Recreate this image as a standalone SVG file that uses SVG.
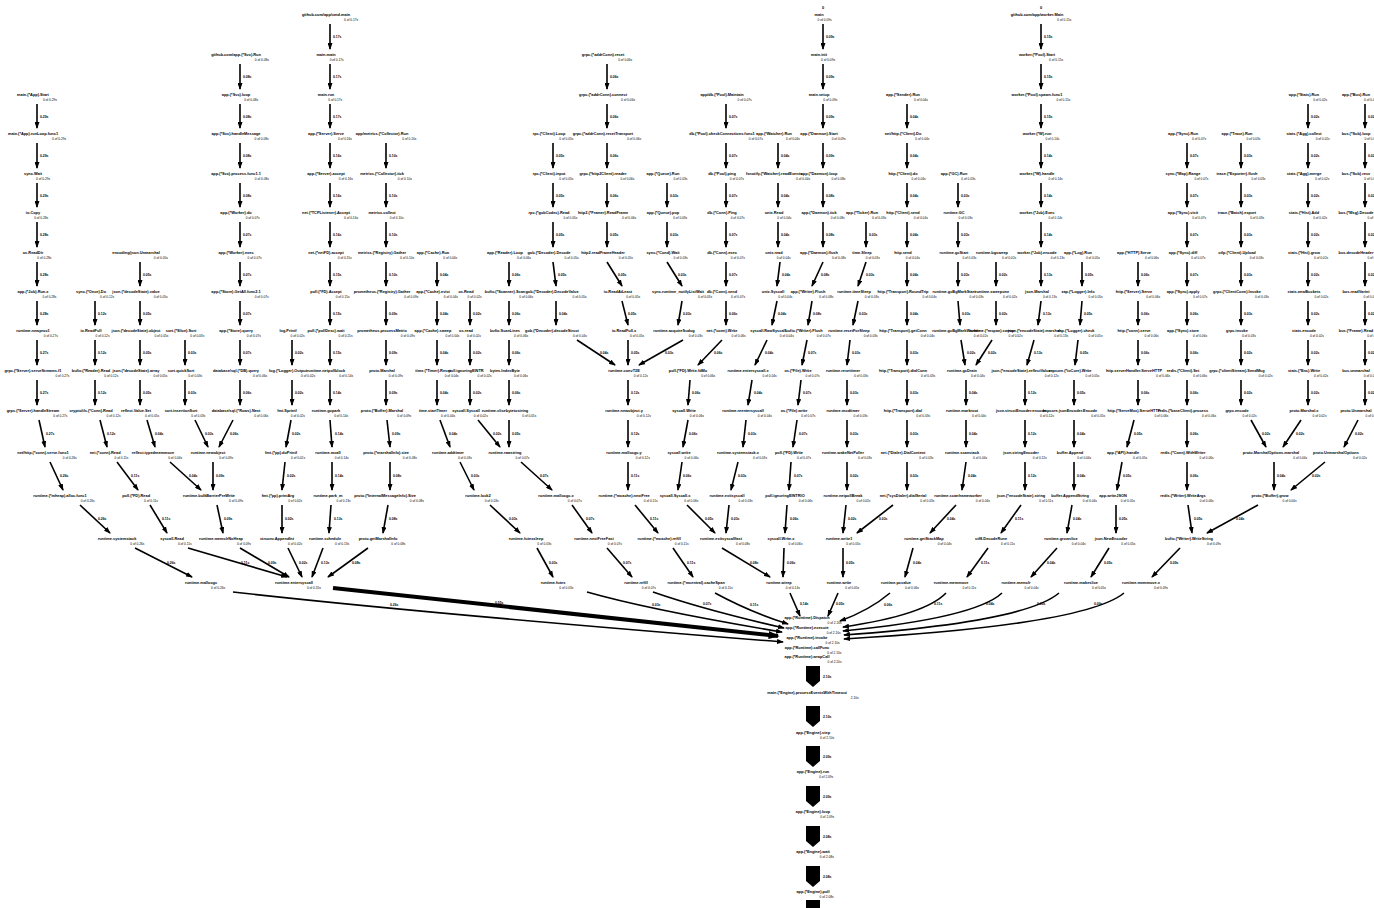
<svg xmlns="http://www.w3.org/2000/svg" width="1374" height="908" viewBox="0 0 1374 908">
<style>
text{font-family:"Liberation Sans",Arial,sans-serif;fill:#000}
.n{font-size:3.9px;font-weight:bold;text-anchor:middle}
.n tspan{font-size:3.2px;font-weight:normal}
.l{font-size:3.4px;font-weight:bold}
.e{fill:none;stroke:#000;stroke-width:1.6;marker-end:url(#a)}
.t{fill:none;stroke:#000;stroke-width:4;marker-end:url(#b)}
.h{fill:#000}
</style>
<defs>
<marker id="a" viewBox="0 0 7 5" refX="6" refY="2.5" markerUnits="userSpaceOnUse" markerWidth="7" markerHeight="5" orient="auto"><path d="M0,0L7,2.5L0,5z"/></marker>
<marker id="b" viewBox="0 0 7 5" refX="6" refY="2.5" markerUnits="userSpaceOnUse" markerWidth="11" markerHeight="8" orient="auto"><path d="M0,0L7,2.5L0,5z"/></marker>
</defs>
<rect width="1374" height="908" fill="#fff"/>
<g id="connectors">
<path class="e" d="M37 104V128"/><text class="l" x="40" y="118">0.29s</text>
<path class="e" d="M37 143V168"/><text class="l" x="40" y="157">0.29s</text>
<path class="e" d="M37 183V207"/><text class="l" x="40" y="197">0.29s</text>
<path class="e" d="M37 222V247"/><text class="l" x="40" y="236">0.28s</text>
<path class="e" d="M37 262V286"/><text class="l" x="40" y="276">0.28s</text>
<path class="e" d="M37 301V325"/><text class="l" x="40" y="315">0.28s</text>
<path class="e" d="M37 340V365"/><text class="l" x="40" y="354">0.27s</text>
<path class="e" d="M37 380V405"/><text class="l" x="40" y="394">0.27s</text>
<path class="e" d="M39 420L45 447"/><text class="l" x="46" y="435">0.27s</text>
<path class="e" d="M50 462L63 490"/><text class="l" x="60" y="477">0.26s</text>
<path class="e" d="M80 505L110 533"/><text class="l" x="98" y="520">0.26s</text>
<path class="e" d="M135 548L192 577"/><text class="l" x="167" y="564">0.26s</text>
<path class="e" d="M95 301V325"/><text class="l" x="98" y="315">0.12s</text>
<path class="e" d="M95 340V365"/><text class="l" x="98" y="354">0.12s</text>
<path class="e" d="M95 380V405"/><text class="l" x="98" y="394">0.12s</text>
<path class="e" d="M100 420L107 447"/><text class="l" x="107" y="435">0.12s</text>
<path class="e" d="M117 462L138 490"/><text class="l" x="131" y="477">0.11s</text>
<path class="e" d="M150 505L167 533"/><text class="l" x="162" y="520">0.11s</text>
<path class="e" d="M188 548L287 577"/><text class="l" x="241" y="564">0.11s</text>
<path class="e" d="M140 262V286"/><text class="l" x="143" y="276">0.05s</text>
<path class="e" d="M140 301V325"/><text class="l" x="143" y="315">0.05s</text>
<path class="e" d="M140 340V365"/><text class="l" x="143" y="354">0.05s</text>
<path class="e" d="M140 380V405"/><text class="l" x="143" y="394">0.05s</text>
<path class="e" d="M147 420L155 447"/><text class="l" x="155" y="435">0.04s</text>
<path class="e" d="M170 462L201 490"/><text class="l" x="189" y="477">0.04s</text>
<path class="e" d="M185 340V365"/><text class="l" x="188" y="354">0.03s</text>
<path class="e" d="M185 380V405"/><text class="l" x="188" y="394">0.03s</text>
<path class="e" d="M195 420L208 447"/><text class="l" x="205" y="435">0.03s</text>
<path class="e" d="M240 64V89"/><text class="l" x="243" y="78">0.08s</text>
<path class="e" d="M240 104V128"/><text class="l" x="243" y="118">0.08s</text>
<path class="e" d="M240 143V168"/><text class="l" x="243" y="157">0.08s</text>
<path class="e" d="M240 183V207"/><text class="l" x="243" y="197">0.08s</text>
<path class="e" d="M240 222V247"/><text class="l" x="243" y="236">0.07s</text>
<path class="e" d="M240 262V286"/><text class="l" x="243" y="276">0.07s</text>
<path class="e" d="M240 301V325"/><text class="l" x="243" y="315">0.07s</text>
<path class="e" d="M240 340V365"/><text class="l" x="243" y="354">0.07s</text>
<path class="e" d="M240 380V405"/><text class="l" x="243" y="394">0.06s</text>
<path class="e" d="M233 420L219 447"/><text class="l" x="230" y="435">0.06s</text>
<path class="e" d="M213 462V490"/><text class="l" x="216" y="477">0.09s</text>
<path class="e" d="M217 505L223 533"/><text class="l" x="224" y="520">0.09s</text>
<path class="e" d="M240 548L289 577"/><text class="l" x="268" y="564">0.09s</text>
<path class="e" d="M292 340V365"/><text class="l" x="295" y="354">0.02s</text>
<path class="e" d="M292 380V405"/><text class="l" x="295" y="394">0.02s</text>
<path class="e" d="M291 420L286 447"/><text class="l" x="292" y="435">0.02s</text>
<path class="e" d="M285 462L282 490"/><text class="l" x="287" y="477">0.02s</text>
<path class="e" d="M282 505V533"/><text class="l" x="285" y="520">0.02s</text>
<path class="e" d="M288 548L302 577"/><text class="l" x="299" y="564">0.02s</text>
<path class="e" d="M330 24V49"/><text class="l" x="333" y="38">0.17s</text>
<path class="e" d="M330 64V89"/><text class="l" x="333" y="78">0.17s</text>
<path class="e" d="M330 104V128"/><text class="l" x="333" y="118">0.17s</text>
<path class="e" d="M330 143V168"/><text class="l" x="333" y="157">0.16s</text>
<path class="e" d="M330 183V207"/><text class="l" x="333" y="197">0.16s</text>
<path class="e" d="M330 222V247"/><text class="l" x="333" y="236">0.16s</text>
<path class="e" d="M330 262V286"/><text class="l" x="333" y="276">0.15s</text>
<path class="e" d="M330 301V325"/><text class="l" x="333" y="315">0.15s</text>
<path class="e" d="M330 340V365"/><text class="l" x="333" y="354">0.15s</text>
<path class="e" d="M330 380V405"/><text class="l" x="333" y="394">0.14s</text>
<path class="e" d="M330 420L332 447"/><text class="l" x="335" y="435">0.14s</text>
<path class="e" d="M332 462V490"/><text class="l" x="335" y="477">0.14s</text>
<path class="e" d="M331 505L329 533"/><text class="l" x="334" y="520">0.13s</text>
<path class="e" d="M323 548L312 577"/><text class="l" x="321" y="564">0.13s</text>
<path class="e" d="M386 143V168"/><text class="l" x="389" y="157">0.10s</text>
<path class="e" d="M386 183V207"/><text class="l" x="389" y="197">0.10s</text>
<path class="e" d="M386 222V247"/><text class="l" x="389" y="236">0.10s</text>
<path class="e" d="M386 262V286"/><text class="l" x="389" y="276">0.10s</text>
<path class="e" d="M386 301V325"/><text class="l" x="389" y="315">0.09s</text>
<path class="e" d="M386 340V365"/><text class="l" x="389" y="354">0.09s</text>
<path class="e" d="M386 380V405"/><text class="l" x="389" y="394">0.09s</text>
<path class="e" d="M387 420L390 447"/><text class="l" x="392" y="435">0.09s</text>
<path class="e" d="M390 462V490"/><text class="l" x="393" y="477">0.08s</text>
<path class="e" d="M388 505L383 533"/><text class="l" x="389" y="520">0.08s</text>
<path class="e" d="M368 548L328 577"/><text class="l" x="352" y="564">0.08s</text>
<path class="e" d="M437 262V286"/><text class="l" x="440" y="276">0.04s</text>
<path class="e" d="M437 301V325"/><text class="l" x="440" y="315">0.04s</text>
<path class="e" d="M437 340V365"/><text class="l" x="440" y="354">0.04s</text>
<path class="e" d="M437 380V405"/><text class="l" x="440" y="394">0.04s</text>
<path class="e" d="M440 420L450 447"/><text class="l" x="449" y="435">0.04s</text>
<path class="e" d="M460 462L474 490"/><text class="l" x="471" y="477">0.03s</text>
<path class="e" d="M490 505L520 533"/><text class="l" x="509" y="520">0.03s</text>
<path class="e" d="M537 548L553 577"/><text class="l" x="549" y="564">0.03s</text>
<path class="e" d="M470 301V325"/><text class="l" x="473" y="315">0.02s</text>
<path class="e" d="M470 340V365"/><text class="l" x="473" y="354">0.02s</text>
<path class="e" d="M470 380V405"/><text class="l" x="473" y="394">0.02s</text>
<path class="e" d="M478 420L500 447"/><text class="l" x="493" y="435">0.02s</text>
<path class="e" d="M509 262V286"/><text class="l" x="512" y="276">0.06s</text>
<path class="e" d="M509 301V325"/><text class="l" x="512" y="315">0.06s</text>
<path class="e" d="M509 340V365"/><text class="l" x="512" y="354">0.06s</text>
<path class="e" d="M509 380V405"/><text class="l" x="512" y="394">0.06s</text>
<path class="e" d="M509 420V447"/><text class="l" x="512" y="435">0.05s</text>
<path class="e" d="M521 462L552 490"/><text class="l" x="540" y="477">0.07s</text>
<path class="e" d="M572 505L592 533"/><text class="l" x="586" y="520">0.07s</text>
<path class="e" d="M607 548L632 577"/><text class="l" x="623" y="564">0.07s</text>
<path class="e" d="M553 143V168"/><text class="l" x="556" y="157">0.05s</text>
<path class="e" d="M553 183V207"/><text class="l" x="556" y="197">0.05s</text>
<path class="e" d="M553 222V247"/><text class="l" x="556" y="236">0.05s</text>
<path class="e" d="M553 262L556 286"/><text class="l" x="558" y="276">0.05s</text>
<path class="e" d="M556 301V325"/><text class="l" x="559" y="315">0.04s</text>
<path class="e" d="M577 340L615 365"/><text class="l" x="600" y="354">0.04s</text>
<path class="e" d="M607 64V89"/><text class="l" x="610" y="78">0.06s</text>
<path class="e" d="M607 104V128"/><text class="l" x="610" y="118">0.06s</text>
<path class="e" d="M607 143V168"/><text class="l" x="610" y="157">0.06s</text>
<path class="e" d="M607 183V207"/><text class="l" x="610" y="197">0.06s</text>
<path class="e" d="M607 222V247"/><text class="l" x="610" y="236">0.05s</text>
<path class="e" d="M607 262L622 286"/><text class="l" x="618" y="276">0.05s</text>
<path class="e" d="M622 301L628 325"/><text class="l" x="628" y="315">0.05s</text>
<path class="e" d="M628 340V365"/><text class="l" x="631" y="354">0.05s</text>
<path class="e" d="M628 380V405"/><text class="l" x="631" y="394">0.12s</text>
<path class="e" d="M628 420V447"/><text class="l" x="631" y="435">0.12s</text>
<path class="e" d="M628 462V490"/><text class="l" x="631" y="477">0.11s</text>
<path class="e" d="M635 505L658 533"/><text class="l" x="650" y="520">0.11s</text>
<path class="e" d="M673 548L693 577"/><text class="l" x="687" y="564">0.11s</text>
<path class="e" d="M667 183V207"/><text class="l" x="670" y="197">0.03s</text>
<path class="e" d="M667 222V247"/><text class="l" x="670" y="236">0.03s</text>
<path class="e" d="M667 262L682 286"/><text class="l" x="678" y="276">0.03s</text>
<path class="e" d="M682 301L678 325"/><text class="l" x="683" y="315">0.03s</text>
<path class="e" d="M683 340L639 365"/><text class="l" x="665" y="354">0.03s</text>
<path class="e" d="M726 104V128"/><text class="l" x="729" y="118">0.07s</text>
<path class="e" d="M726 143V168"/><text class="l" x="729" y="157">0.07s</text>
<path class="e" d="M726 183V207"/><text class="l" x="729" y="197">0.07s</text>
<path class="e" d="M726 222V247"/><text class="l" x="729" y="236">0.07s</text>
<path class="e" d="M726 262V286"/><text class="l" x="729" y="276">0.07s</text>
<path class="e" d="M726 301V325"/><text class="l" x="729" y="315">0.06s</text>
<path class="e" d="M722 340L698 365"/><text class="l" x="714" y="354">0.06s</text>
<path class="e" d="M690 380L688 405"/><text class="l" x="692" y="394">0.06s</text>
<path class="e" d="M688 420L683 447"/><text class="l" x="689" y="435">0.06s</text>
<path class="e" d="M682 462L678 490"/><text class="l" x="683" y="477">0.06s</text>
<path class="e" d="M687 505L715 533"/><text class="l" x="705" y="520">0.05s</text>
<path class="e" d="M778 143V168"/><text class="l" x="781" y="157">0.04s</text>
<path class="e" d="M778 183V207"/><text class="l" x="781" y="197">0.04s</text>
<path class="e" d="M778 222V247"/><text class="l" x="781" y="236">0.04s</text>
<path class="e" d="M780 262L777 286"/><text class="l" x="782" y="276">0.04s</text>
<path class="e" d="M777 301L772 325"/><text class="l" x="778" y="315">0.04s</text>
<path class="e" d="M767 340L755 365"/><text class="l" x="765" y="354">0.04s</text>
<path class="e" d="M752 380L748 405"/><text class="l" x="754" y="394">0.04s</text>
<path class="e" d="M746 420L743 447"/><text class="l" x="748" y="435">0.03s</text>
<path class="e" d="M738 462L731 490"/><text class="l" x="738" y="477">0.03s</text>
<path class="e" d="M729 505L726 533"/><text class="l" x="731" y="520">0.03s</text>
<path class="e" d="M722 548L770 577"/><text class="l" x="750" y="564">0.08s</text>
<path class="e" d="M823 24V49"/><text class="l" x="826" y="38">0.09s</text>
<path class="e" d="M823 64V89"/><text class="l" x="826" y="78">0.09s</text>
<path class="e" d="M823 104V128"/><text class="l" x="826" y="118">0.09s</text>
<path class="e" d="M823 143V168"/><text class="l" x="826" y="157">0.09s</text>
<path class="e" d="M823 183V207"/><text class="l" x="826" y="197">0.08s</text>
<path class="e" d="M823 222V247"/><text class="l" x="826" y="236">0.08s</text>
<path class="e" d="M823 262L812 286"/><text class="l" x="821" y="276">0.08s</text>
<path class="e" d="M812 301L808 325"/><text class="l" x="813" y="315">0.08s</text>
<path class="e" d="M807 340L802 365"/><text class="l" x="808" y="354">0.07s</text>
<path class="e" d="M801 380L798 405"/><text class="l" x="803" y="394">0.07s</text>
<path class="e" d="M797 420L793 447"/><text class="l" x="799" y="435">0.07s</text>
<path class="e" d="M791 462L789 490"/><text class="l" x="794" y="477">0.07s</text>
<path class="e" d="M787 505L785 533"/><text class="l" x="790" y="520">0.06s</text>
<path class="e" d="M784 548L783 577"/><text class="l" x="787" y="564">0.06s</text>
<path class="e" d="M866 222V247"/><text class="l" x="869" y="236">0.03s</text>
<path class="e" d="M866 262L858 286"/><text class="l" x="866" y="276">0.03s</text>
<path class="e" d="M858 301L853 325"/><text class="l" x="859" y="315">0.03s</text>
<path class="e" d="M850 340L847 365"/><text class="l" x="852" y="354">0.03s</text>
<path class="e" d="M847 380V405"/><text class="l" x="850" y="394">0.03s</text>
<path class="e" d="M847 420V447"/><text class="l" x="850" y="435">0.03s</text>
<path class="e" d="M847 462V490"/><text class="l" x="850" y="477">0.02s</text>
<path class="e" d="M846 505L843 533"/><text class="l" x="848" y="520">0.02s</text>
<path class="e" d="M843 548V577"/><text class="l" x="846" y="564">0.05s</text>
<path class="e" d="M907 104V128"/><text class="l" x="910" y="118">0.04s</text>
<path class="e" d="M907 143V168"/><text class="l" x="910" y="157">0.04s</text>
<path class="e" d="M907 183V207"/><text class="l" x="910" y="197">0.04s</text>
<path class="e" d="M907 222V247"/><text class="l" x="910" y="236">0.04s</text>
<path class="e" d="M907 262V286"/><text class="l" x="910" y="276">0.04s</text>
<path class="e" d="M907 301V325"/><text class="l" x="910" y="315">0.04s</text>
<path class="e" d="M907 340V365"/><text class="l" x="910" y="354">0.03s</text>
<path class="e" d="M907 380V405"/><text class="l" x="910" y="394">0.03s</text>
<path class="e" d="M907 420V447"/><text class="l" x="910" y="435">0.03s</text>
<path class="e" d="M907 462V490"/><text class="l" x="910" y="477">0.03s</text>
<path class="e" d="M893 505L857 533"/><text class="l" x="879" y="520">0.03s</text>
<path class="e" d="M958 183V207"/><text class="l" x="961" y="197">0.03s</text>
<path class="e" d="M958 222V247"/><text class="l" x="961" y="236">0.03s</text>
<path class="e" d="M958 262V286"/><text class="l" x="961" y="276">0.03s</text>
<path class="e" d="M958 301L960 325"/><text class="l" x="962" y="315">0.03s</text>
<path class="e" d="M961 340L965 365"/><text class="l" x="967" y="354">0.02s</text>
<path class="e" d="M966 380V405"/><text class="l" x="969" y="394">0.04s</text>
<path class="e" d="M966 420V447"/><text class="l" x="969" y="435">0.04s</text>
<path class="e" d="M966 462L962 490"/><text class="l" x="968" y="477">0.04s</text>
<path class="e" d="M956 505L930 533"/><text class="l" x="947" y="520">0.04s</text>
<path class="e" d="M913 548L905 577"/><text class="l" x="913" y="564">0.04s</text>
<path class="e" d="M996 262V286"/><text class="l" x="999" y="276">0.02s</text>
<path class="e" d="M996 301V325"/><text class="l" x="999" y="315">0.02s</text>
<path class="e" d="M992 340L976 365"/><text class="l" x="988" y="354">0.02s</text>
<path class="e" d="M1041 24V49"/><text class="l" x="1044" y="38">0.15s</text>
<path class="e" d="M1041 64V89"/><text class="l" x="1044" y="78">0.15s</text>
<path class="e" d="M1041 104V128"/><text class="l" x="1044" y="118">0.15s</text>
<path class="e" d="M1041 143V168"/><text class="l" x="1044" y="157">0.14s</text>
<path class="e" d="M1041 183V207"/><text class="l" x="1044" y="197">0.14s</text>
<path class="e" d="M1041 222V247"/><text class="l" x="1044" y="236">0.14s</text>
<path class="e" d="M1041 262V286"/><text class="l" x="1044" y="276">0.13s</text>
<path class="e" d="M1041 301L1038 325"/><text class="l" x="1043" y="315">0.13s</text>
<path class="e" d="M1034 340L1027 365"/><text class="l" x="1034" y="354">0.13s</text>
<path class="e" d="M1025 380V405"/><text class="l" x="1028" y="394">0.12s</text>
<path class="e" d="M1025 420V447"/><text class="l" x="1028" y="435">0.12s</text>
<path class="e" d="M1025 462V490"/><text class="l" x="1028" y="477">0.12s</text>
<path class="e" d="M1021 505L1001 533"/><text class="l" x="1015" y="520">0.11s</text>
<path class="e" d="M988 548L967 577"/><text class="l" x="981" y="564">0.11s</text>
<path class="e" d="M1082 262V286"/><text class="l" x="1085" y="276">0.05s</text>
<path class="e" d="M1082 301L1080 325"/><text class="l" x="1084" y="315">0.05s</text>
<path class="e" d="M1078 340L1075 365"/><text class="l" x="1080" y="354">0.05s</text>
<path class="e" d="M1074 380V405"/><text class="l" x="1077" y="394">0.05s</text>
<path class="e" d="M1074 420V447"/><text class="l" x="1077" y="435">0.04s</text>
<path class="e" d="M1074 462V490"/><text class="l" x="1077" y="477">0.04s</text>
<path class="e" d="M1072 505L1067 533"/><text class="l" x="1073" y="520">0.04s</text>
<path class="e" d="M1057 548L1031 577"/><text class="l" x="1047" y="564">0.04s</text>
<path class="e" d="M1138 262V286"/><text class="l" x="1141" y="276">0.06s</text>
<path class="e" d="M1138 301V325"/><text class="l" x="1141" y="315">0.06s</text>
<path class="e" d="M1138 340V365"/><text class="l" x="1141" y="354">0.06s</text>
<path class="e" d="M1138 380V405"/><text class="l" x="1141" y="394">0.06s</text>
<path class="e" d="M1134 420L1127 447"/><text class="l" x="1134" y="435">0.05s</text>
<path class="e" d="M1122 462L1117 490"/><text class="l" x="1123" y="477">0.05s</text>
<path class="e" d="M1116 505V533"/><text class="l" x="1119" y="520">0.05s</text>
<path class="e" d="M1109 548L1091 577"/><text class="l" x="1104" y="564">0.05s</text>
<path class="e" d="M1187 143V168"/><text class="l" x="1190" y="157">0.07s</text>
<path class="e" d="M1187 183V207"/><text class="l" x="1190" y="197">0.07s</text>
<path class="e" d="M1187 222V247"/><text class="l" x="1190" y="236">0.07s</text>
<path class="e" d="M1187 262V286"/><text class="l" x="1190" y="276">0.07s</text>
<path class="e" d="M1187 301V325"/><text class="l" x="1190" y="315">0.06s</text>
<path class="e" d="M1187 340V365"/><text class="l" x="1190" y="354">0.06s</text>
<path class="e" d="M1187 380V405"/><text class="l" x="1190" y="394">0.06s</text>
<path class="e" d="M1187 420V447"/><text class="l" x="1190" y="435">0.06s</text>
<path class="e" d="M1187 462V490"/><text class="l" x="1190" y="477">0.06s</text>
<path class="e" d="M1188 505L1192 533"/><text class="l" x="1194" y="520">0.05s</text>
<path class="e" d="M1180 548L1152 577"/><text class="l" x="1170" y="564">0.09s</text>
<path class="e" d="M1241 143V168"/><text class="l" x="1244" y="157">0.03s</text>
<path class="e" d="M1241 183V207"/><text class="l" x="1244" y="197">0.03s</text>
<path class="e" d="M1241 222V247"/><text class="l" x="1244" y="236">0.03s</text>
<path class="e" d="M1241 262V286"/><text class="l" x="1244" y="276">0.03s</text>
<path class="e" d="M1241 301V325"/><text class="l" x="1244" y="315">0.03s</text>
<path class="e" d="M1241 340V365"/><text class="l" x="1244" y="354">0.02s</text>
<path class="e" d="M1241 380V405"/><text class="l" x="1244" y="394">0.02s</text>
<path class="e" d="M1251 420L1266 447"/><text class="l" x="1262" y="435">0.02s</text>
<path class="e" d="M1274 462V490"/><text class="l" x="1277" y="477">0.04s</text>
<path class="e" d="M1258 505L1207 533"/><text class="l" x="1236" y="520">0.04s</text>
<path class="e" d="M1308 104V128"/><text class="l" x="1311" y="118">0.02s</text>
<path class="e" d="M1308 143V168"/><text class="l" x="1311" y="157">0.02s</text>
<path class="e" d="M1308 183V207"/><text class="l" x="1311" y="197">0.02s</text>
<path class="e" d="M1308 222V247"/><text class="l" x="1311" y="236">0.02s</text>
<path class="e" d="M1308 262V286"/><text class="l" x="1311" y="276">0.02s</text>
<path class="e" d="M1308 301V325"/><text class="l" x="1311" y="315">0.02s</text>
<path class="e" d="M1308 340V365"/><text class="l" x="1311" y="354">0.02s</text>
<path class="e" d="M1308 380V405"/><text class="l" x="1311" y="394">0.02s</text>
<path class="e" d="M1301 420L1283 447"/><text class="l" x="1296" y="435">0.02s</text>
<path class="e" d="M1365 104V128"/><text class="l" x="1368" y="118">0.02s</text>
<path class="e" d="M1365 143V168"/><text class="l" x="1368" y="157">0.02s</text>
<path class="e" d="M1365 183V207"/><text class="l" x="1368" y="197">0.02s</text>
<path class="e" d="M1365 222V247"/><text class="l" x="1368" y="236">0.02s</text>
<path class="e" d="M1365 262V286"/><text class="l" x="1368" y="276">0.02s</text>
<path class="e" d="M1365 301V325"/><text class="l" x="1368" y="315">0.02s</text>
<path class="e" d="M1365 340V365"/><text class="l" x="1368" y="354">0.02s</text>
<path class="e" d="M1365 380V405"/><text class="l" x="1368" y="394">0.02s</text>
<path class="e" d="M1358 420L1344 447"/><text class="l" x="1355" y="435">0.02s</text>
<path class="e" d="M1325 462L1291 490"/><text class="l" x="1312" y="477">0.02s</text>
<path class="e" d="M233 592Q420 613 783 642"/><text class="l" x="390" y="606">0.26s</text>
<path class="t" d="M333 588L778 636"/><text class="l" x="495" y="604">0.55s</text>
<path class="e" d="M587 592Q650 610 782 632"/><text class="l" x="652" y="606">0.03s</text>
<path class="e" d="M653 592Q705 610 784 628"/><text class="l" x="703" y="605">0.07s</text>
<path class="e" d="M715 593Q750 612 788 624"/><text class="l" x="750" y="606">0.11s</text>
<path class="e" d="M790 593L800 616"/><text class="l" x="800" y="605">0.14s</text>
<path class="e" d="M838 593L828 616"/><text class="l" x="836" y="605">0.05s</text>
<path class="e" d="M890 593Q870 610 840 621"/><text class="l" x="884" y="606">0.06s</text>
<path class="e" d="M946 593Q925 615 843 627"/><text class="l" x="934" y="605">0.11s</text>
<path class="e" d="M1002 593Q975 618 843 631"/><text class="l" x="986" y="605">0.04s</text>
<path class="e" d="M1059 593Q1025 622 844 635"/><text class="l" x="1037" y="605">0.05s</text>
<path class="e" d="M1124 593Q1085 625 844 639"/><text class="l" x="1094" y="605">0.09s</text>
<polygon class="h" points="806,666 820,666 820,681 813,687 806,681"/><text class="l" x="823" y="678">2.10s</text>
<polygon class="h" points="806,706 820,706 820,721 813,727 806,721"/><text class="l" x="823" y="718">2.10s</text>
<polygon class="h" points="806,746 820,746 820,761 813,767 806,761"/><text class="l" x="823" y="758">2.09s</text>
<polygon class="h" points="806,786 820,786 820,801 813,807 806,801"/><text class="l" x="823" y="798">2.09s</text>
<polygon class="h" points="806,826 820,826 820,841 813,847 806,841"/><text class="l" x="823" y="838">2.08s</text>
<polygon class="h" points="806,866 820,866 820,881 813,887 806,881"/><text class="l" x="823" y="878">2.08s</text>
<polygon class="h" points="806,900 820,900 820,910 806,910"/>
</g>
<g id="nA2"><text class="n" x="37" y="96">main.(*App).Start<tspan dx="-6" dy="4.5">0 of 0.29s</tspan></text></g>
<g id="nA3"><text class="n" x="37" y="135">main.(*App).runLoop.func1<tspan dx="-6" dy="4.5">0 of 0.29s</tspan></text></g>
<g id="nA4"><text class="n" x="37" y="175">sync.Wait<tspan dx="-6" dy="4.5">0 of 0.29s</tspan></text></g>
<g id="nA5"><text class="n" x="37" y="214">io.Copy<tspan dx="-6" dy="4.5">0 of 0.28s</tspan></text></g>
<g id="nA6"><text class="n" x="37" y="254">os.ReadDir<tspan dx="-6" dy="4.5">0 of 0.28s</tspan></text></g>
<g id="nA7"><text class="n" x="37" y="293">app.(*Job).Run.x<tspan dx="-6" dy="4.5">0 of 0.28s</tspan></text></g>
<g id="nA8"><text class="n" x="37" y="332">runtime.newproc1<tspan dx="-6" dy="4.5">0 of 0.27s</tspan></text></g>
<g id="nA9"><text class="n" x="37" y="372">grpc.(*Server).serveStreams.f1<tspan dx="-6" dy="4.5">0 of 0.27s</tspan></text></g>
<g id="nA10"><text class="n" x="37" y="412">grpc.(*Server).handleStream<tspan dx="-6" dy="4.5">0 of 0.27s</tspan></text></g>
<g id="nA11"><text class="n" x="47" y="454">net/http.(*conn).serve.func1<tspan dx="-6" dy="4.5">0 of 0.26s</tspan></text></g>
<g id="nA12"><text class="n" x="64" y="497">runtime.(*mheap).alloc.func1<tspan dx="-6" dy="4.5">0 of 0.26s</tspan></text></g>
<g id="nA13"><text class="n" x="121" y="540">runtime.systemstack<tspan dx="-6" dy="4.5">0 of 0.26s</tspan></text></g>
<g id="nL14a"><text class="n" x="205" y="584">runtime.mallocgc<tspan dx="-6" dy="4.5">0 of 0.26s</tspan></text></g>
<g id="nB7"><text class="n" x="95" y="293">sync.(*Once).Do<tspan dx="-6" dy="4.5">0 of 0.12s</tspan></text></g>
<g id="nB8"><text class="n" x="95" y="332">io.ReadFull<tspan dx="-6" dy="4.5">0 of 0.12s</tspan></text></g>
<g id="nB9"><text class="n" x="95" y="372">bufio.(*Reader).Read<tspan dx="-6" dy="4.5">0 of 0.12s</tspan></text></g>
<g id="nB10"><text class="n" x="95" y="412">crypto/tls.(*Conn).Read<tspan dx="-6" dy="4.5">0 of 0.12s</tspan></text></g>
<g id="nB11"><text class="n" x="109" y="454">net.(*conn).Read<tspan dx="-6" dy="4.5">0 of 0.11s</tspan></text></g>
<g id="nB12"><text class="n" x="140" y="497">poll.(*FD).Read<tspan dx="-6" dy="4.5">0 of 0.11s</tspan></text></g>
<g id="nB13"><text class="n" x="176" y="540">syscall.Read<tspan dx="-6" dy="4.5">0 of 0.11s</tspan></text></g>
<g id="nL14b"><text class="n" x="298" y="584">runtime.entersyscall<tspan dx="-6" dy="4.5">0 of 0.55s</tspan></text></g>
<g id="nC6"><text class="n" x="140" y="254">encoding/json.Unmarshal<tspan dx="-6" dy="4.5">0 of 0.05s</tspan></text></g>
<g id="nC7"><text class="n" x="140" y="293">json.(*decodeState).value<tspan dx="-6" dy="4.5">0 of 0.05s</tspan></text></g>
<g id="nC8"><text class="n" x="140" y="332">json.(*decodeState).object<tspan dx="-6" dy="4.5">0 of 0.05s</tspan></text></g>
<g id="nC9"><text class="n" x="140" y="372">json.(*decodeState).array<tspan dx="-6" dy="4.5">0 of 0.05s</tspan></text></g>
<g id="nC10"><text class="n" x="140" y="412">reflect.Value.Set<tspan dx="-6" dy="4.5">0 of 0.05s</tspan></text></g>
<g id="nC11"><text class="n" x="157" y="454">reflect.typedmemmove<tspan dx="-6" dy="4.5">0 of 0.04s</tspan></text></g>
<g id="nCM12"><text class="n" x="213" y="497">runtime.bulkBarrierPreWrite<tspan dx="-6" dy="4.5">0 of 0.09s</tspan></text></g>
<g id="nD8"><text class="n" x="185" y="332">sort.(*Slice).Sort<tspan dx="-6" dy="4.5">0 of 0.03s</tspan></text></g>
<g id="nD9"><text class="n" x="185" y="372">sort.quickSort<tspan dx="-6" dy="4.5">0 of 0.03s</tspan></text></g>
<g id="nD10"><text class="n" x="185" y="412">sort.insertionSort<tspan dx="-6" dy="4.5">0 of 0.03s</tspan></text></g>
<g id="nDE11"><text class="n" x="212" y="454">runtime.newobject<tspan dx="-6" dy="4.5">0 of 0.09s</tspan></text></g>
<g id="nE1"><text class="n" x="240" y="56">github.com/app.(*Svc).Run<tspan dx="-6" dy="4.5">0 of 0.08s</tspan></text></g>
<g id="nE2"><text class="n" x="240" y="96">app.(*Svc).loop<tspan dx="-6" dy="4.5">0 of 0.08s</tspan></text></g>
<g id="nE3"><text class="n" x="240" y="135">app.(*Svc).handleMessage<tspan dx="-6" dy="4.5">0 of 0.08s</tspan></text></g>
<g id="nE4"><text class="n" x="240" y="175">app.(*Svc).process.func1.1<tspan dx="-6" dy="4.5">0 of 0.08s</tspan></text></g>
<g id="nE5"><text class="n" x="240" y="214">app.(*Worker).do<tspan dx="-6" dy="4.5">0 of 0.07s</tspan></text></g>
<g id="nE6"><text class="n" x="240" y="254">app.(*Worker).exec<tspan dx="-6" dy="4.5">0 of 0.07s</tspan></text></g>
<g id="nE7"><text class="n" x="240" y="293">app.(*Store).GetAll.func2.1<tspan dx="-6" dy="4.5">0 of 0.07s</tspan></text></g>
<g id="nE8"><text class="n" x="240" y="332">app.(*Store).query<tspan dx="-6" dy="4.5">0 of 0.07s</tspan></text></g>
<g id="nE9"><text class="n" x="240" y="372">database/sql.(*DB).query<tspan dx="-6" dy="4.5">0 of 0.06s</tspan></text></g>
<g id="nE10"><text class="n" x="240" y="412">database/sql.(*Rows).Next<tspan dx="-6" dy="4.5">0 of 0.06s</tspan></text></g>
<g id="nE13"><text class="n" x="225" y="540">runtime.memclrNoHeap<tspan dx="-6" dy="4.5">0 of 0.09s</tspan></text></g>
<g id="nF8"><text class="n" x="292" y="332">log.Printf<tspan dx="-6" dy="4.5">0 of 0.02s</tspan></text></g>
<g id="nF9"><text class="n" x="292" y="372">log.(*Logger).Output<tspan dx="-6" dy="4.5">0 of 0.02s</tspan></text></g>
<g id="nF10"><text class="n" x="291" y="412">fmt.Sprintf<tspan dx="-6" dy="4.5">0 of 0.02s</tspan></text></g>
<g id="nF11"><text class="n" x="285" y="454">fmt.(*pp).doPrintf<tspan dx="-6" dy="4.5">0 of 0.02s</tspan></text></g>
<g id="nF12"><text class="n" x="282" y="497">fmt.(*pp).printArg<tspan dx="-6" dy="4.5">0 of 0.02s</tspan></text></g>
<g id="nF13"><text class="n" x="281" y="540">strconv.AppendInt<tspan dx="-6" dy="4.5">0 of 0.02s</tspan></text></g>
<g id="nG0"><text class="n" x="330" y="16">github.com/app/cmd.main<tspan dx="-6" dy="4.5">0 of 0.17s</tspan></text></g>
<g id="nG1"><text class="n" x="330" y="56">main.main<tspan dx="-6" dy="4.5">0 of 0.17s</tspan></text></g>
<g id="nG2"><text class="n" x="330" y="96">main.run<tspan dx="-6" dy="4.5">0 of 0.17s</tspan></text></g>
<g id="nG3"><text class="n" x="330" y="135">app.(*Server).Serve<tspan dx="-6" dy="4.5">0 of 0.16s</tspan></text></g>
<g id="nG4"><text class="n" x="330" y="175">app.(*Server).accept<tspan dx="-6" dy="4.5">0 of 0.16s</tspan></text></g>
<g id="nG5"><text class="n" x="330" y="214">net.(*TCPListener).Accept<tspan dx="-6" dy="4.5">0 of 0.16s</tspan></text></g>
<g id="nG6"><text class="n" x="330" y="254">net.(*netFD).accept<tspan dx="-6" dy="4.5">0 of 0.15s</tspan></text></g>
<g id="nG7"><text class="n" x="330" y="293">poll.(*FD).Accept<tspan dx="-6" dy="4.5">0 of 0.15s</tspan></text></g>
<g id="nG8"><text class="n" x="330" y="332">poll.(*pollDesc).wait<tspan dx="-6" dy="4.5">0 of 0.15s</tspan></text></g>
<g id="nG9"><text class="n" x="330" y="372">runtime.netpollblock<tspan dx="-6" dy="4.5">0 of 0.14s</tspan></text></g>
<g id="nG10"><text class="n" x="330" y="412">runtime.gopark<tspan dx="-6" dy="4.5">0 of 0.14s</tspan></text></g>
<g id="nG11"><text class="n" x="332" y="454">runtime.mcall<tspan dx="-6" dy="4.5">0 of 0.14s</tspan></text></g>
<g id="nG12"><text class="n" x="332" y="497">runtime.park_m<tspan dx="-6" dy="4.5">0 of 0.13s</tspan></text></g>
<g id="nG13"><text class="n" x="329" y="540">runtime.schedule<tspan dx="-6" dy="4.5">0 of 0.13s</tspan></text></g>
<g id="nH3"><text class="n" x="386" y="135">app/metrics.(*Collector).Run<tspan dx="-6" dy="4.5">0 of 0.10s</tspan></text></g>
<g id="nH4"><text class="n" x="386" y="175">metrics.(*Collector).tick<tspan dx="-6" dy="4.5">0 of 0.10s</tspan></text></g>
<g id="nH5"><text class="n" x="386" y="214">metrics.collect<tspan dx="-6" dy="4.5">0 of 0.10s</tspan></text></g>
<g id="nH6"><text class="n" x="386" y="254">metrics.(*Registry).Gather<tspan dx="-6" dy="4.5">0 of 0.10s</tspan></text></g>
<g id="nH7"><text class="n" x="386" y="293">prometheus.(*Registry).Gather<tspan dx="-6" dy="4.5">0 of 0.09s</tspan></text></g>
<g id="nH8"><text class="n" x="386" y="332">prometheus.processMetric<tspan dx="-6" dy="4.5">0 of 0.09s</tspan></text></g>
<g id="nH9"><text class="n" x="386" y="372">proto.Marshal<tspan dx="-6" dy="4.5">0 of 0.09s</tspan></text></g>
<g id="nH10"><text class="n" x="386" y="412">proto.(*Buffer).Marshal<tspan dx="-6" dy="4.5">0 of 0.09s</tspan></text></g>
<g id="nH11"><text class="n" x="390" y="454">proto.(*marshalInfo).size<tspan dx="-6" dy="4.5">0 of 0.08s</tspan></text></g>
<g id="nH12"><text class="n" x="389" y="497">proto.(*InternalMessageInfo).Size<tspan dx="-6" dy="4.5">0 of 0.08s</tspan></text></g>
<g id="nH13"><text class="n" x="382" y="540">proto.getMarshalInfo<tspan dx="-6" dy="4.5">0 of 0.08s</tspan></text></g>
<g id="nI6"><text class="n" x="437" y="254">app.(*Cache).Run<tspan dx="-6" dy="4.5">0 of 0.04s</tspan></text></g>
<g id="nI7"><text class="n" x="437" y="293">app.(*Cache).evict<tspan dx="-6" dy="4.5">0 of 0.04s</tspan></text></g>
<g id="nI8"><text class="n" x="437" y="332">app.(*Cache).sweep<tspan dx="-6" dy="4.5">0 of 0.04s</tspan></text></g>
<g id="nI9"><text class="n" x="437" y="372">time.(*Timer).Reset<tspan dx="-6" dy="4.5">0 of 0.04s</tspan></text></g>
<g id="nI10"><text class="n" x="437" y="412">time.startTimer<tspan dx="-6" dy="4.5">0 of 0.04s</tspan></text></g>
<g id="nI11"><text class="n" x="452" y="454">runtime.addtimer<tspan dx="-6" dy="4.5">0 of 0.03s</tspan></text></g>
<g id="nI12"><text class="n" x="482" y="497">runtime.lock2<tspan dx="-6" dy="4.5">0 of 0.03s</tspan></text></g>
<g id="nI13"><text class="n" x="530" y="540">runtime.futexsleep<tspan dx="-6" dy="4.5">0 of 0.03s</tspan></text></g>
<g id="nL14c"><text class="n" x="557" y="584">runtime.futex<tspan dx="-6" dy="4.5">0 of 0.03s</tspan></text></g>
<g id="nJ7"><text class="n" x="470" y="293">os.Read<tspan dx="-6" dy="4.5">0 of 0.02s</tspan></text></g>
<g id="nJ8"><text class="n" x="470" y="332">os.read<tspan dx="-6" dy="4.5">0 of 0.02s</tspan></text></g>
<g id="nJ9"><text class="n" x="470" y="372">poll.ignoringEINTR<tspan dx="-6" dy="4.5">0 of 0.02s</tspan></text></g>
<g id="nJ10"><text class="n" x="470" y="412">syscall.Syscall<tspan dx="-6" dy="4.5">0 of 0.02s</tspan></text></g>
<g id="nK6"><text class="n" x="509" y="254">app.(*Reader).Loop<tspan dx="-6" dy="4.5">0 of 0.06s</tspan></text></g>
<g id="nK7"><text class="n" x="509" y="293">bufio.(*Scanner).Scan<tspan dx="-6" dy="4.5">0 of 0.06s</tspan></text></g>
<g id="nK8"><text class="n" x="509" y="332">bufio.ScanLines<tspan dx="-6" dy="4.5">0 of 0.06s</tspan></text></g>
<g id="nK9"><text class="n" x="509" y="372">bytes.IndexByte<tspan dx="-6" dy="4.5">0 of 0.06s</tspan></text></g>
<g id="nK10"><text class="n" x="509" y="412">runtime.slicebytetostring<tspan dx="-6" dy="4.5">0 of 0.05s</tspan></text></g>
<g id="nK11"><text class="n" x="509" y="454">runtime.rawstring<tspan dx="-6" dy="4.5">0 of 0.07s</tspan></text></g>
<g id="nK12"><text class="n" x="560" y="497">runtime.mallocgc.x<tspan dx="-6" dy="4.5">0 of 0.07s</tspan></text></g>
<g id="nK13"><text class="n" x="598" y="540">runtime.nextFreeFast<tspan dx="-6" dy="4.5">0 of 0.07s</tspan></text></g>
<g id="nL14d"><text class="n" x="640" y="584">runtime.refill<tspan dx="-6" dy="4.5">0 of 0.07s</tspan></text></g>
<g id="nL3"><text class="n" x="553" y="135">rpc.(*Client).Loop<tspan dx="-6" dy="4.5">0 of 0.05s</tspan></text></g>
<g id="nL4"><text class="n" x="553" y="175">rpc.(*Client).input<tspan dx="-6" dy="4.5">0 of 0.05s</tspan></text></g>
<g id="nL5"><text class="n" x="553" y="214">rpc.(*gobCodec).Read<tspan dx="-6" dy="4.5">0 of 0.05s</tspan></text></g>
<g id="nL6"><text class="n" x="553" y="254">gob.(*Decoder).Decode<tspan dx="-6" dy="4.5">0 of 0.05s</tspan></text></g>
<g id="nL7"><text class="n" x="556" y="293">gob.(*Decoder).DecodeValue<tspan dx="-6" dy="4.5">0 of 0.05s</tspan></text></g>
<g id="nL8"><text class="n" x="556" y="332">gob.(*Decoder).decodeStruct<tspan dx="-6" dy="4.5">0 of 0.04s</tspan></text></g>
<g id="nM1"><text class="n" x="607" y="56">grpc.(*addrConn).reset<tspan dx="-6" dy="4.5">0 of 0.06s</tspan></text></g>
<g id="nM2"><text class="n" x="607" y="96">grpc.(*addrConn).connect<tspan dx="-6" dy="4.5">0 of 0.06s</tspan></text></g>
<g id="nM3"><text class="n" x="607" y="135">grpc.(*addrConn).resetTransport<tspan dx="-6" dy="4.5">0 of 0.06s</tspan></text></g>
<g id="nM4"><text class="n" x="607" y="175">grpc.(*http2Client).reader<tspan dx="-6" dy="4.5">0 of 0.06s</tspan></text></g>
<g id="nM5"><text class="n" x="607" y="214">http2.(*Framer).ReadFrame<tspan dx="-6" dy="4.5">0 of 0.06s</tspan></text></g>
<g id="nM6"><text class="n" x="607" y="254">http2.readFrameHeader<tspan dx="-6" dy="4.5">0 of 0.05s</tspan></text></g>
<g id="nM7"><text class="n" x="622" y="293">io.ReadAtLeast<tspan dx="-6" dy="4.5">0 of 0.05s</tspan></text></g>
<g id="nM8"><text class="n" x="628" y="332">io.ReadFull.x<tspan dx="-6" dy="4.5">0 of 0.05s</tspan></text></g>
<g id="nM9"><text class="n" x="628" y="372">runtime.convT2E<tspan dx="-6" dy="4.5">0 of 0.12s</tspan></text></g>
<g id="nM10"><text class="n" x="628" y="412">runtime.newobject.y<tspan dx="-6" dy="4.5">0 of 0.12s</tspan></text></g>
<g id="nM11"><text class="n" x="628" y="454">runtime.mallocgc.y<tspan dx="-6" dy="4.5">0 of 0.12s</tspan></text></g>
<g id="nM12"><text class="n" x="628" y="497">runtime.(*mcache).nextFree<tspan dx="-6" dy="4.5">0 of 0.11s</tspan></text></g>
<g id="nM13"><text class="n" x="663" y="540">runtime.(*mcache).refill<tspan dx="-6" dy="4.5">0 of 0.11s</tspan></text></g>
<g id="nL14e"><text class="n" x="700" y="584">runtime.(*mcentral).cacheSpan<tspan dx="-6" dy="4.5">0 of 0.11s</tspan></text></g>
<g id="nN4"><text class="n" x="667" y="175">app.(*Queue).Run<tspan dx="-6" dy="4.5">0 of 0.03s</tspan></text></g>
<g id="nN5"><text class="n" x="667" y="214">app.(*Queue).pop<tspan dx="-6" dy="4.5">0 of 0.03s</tspan></text></g>
<g id="nN6"><text class="n" x="667" y="254">sync.(*Cond).Wait<tspan dx="-6" dy="4.5">0 of 0.03s</tspan></text></g>
<g id="nN7"><text class="n" x="682" y="293">sync.runtime_notifyListWait<tspan dx="-6" dy="4.5">0 of 0.03s</tspan></text></g>
<g id="nN8"><text class="n" x="678" y="332">runtime.acquireSudog<tspan dx="-6" dy="4.5">0 of 0.03s</tspan></text></g>
<g id="nO2"><text class="n" x="726" y="96">app/db.(*Pool).Maintain<tspan dx="-6" dy="4.5">0 of 0.07s</tspan></text></g>
<g id="nO3"><text class="n" x="726" y="135">db.(*Pool).checkConnections.func1<tspan dx="-6" dy="4.5">0 of 0.07s</tspan></text></g>
<g id="nO4"><text class="n" x="726" y="175">db.(*Pool).ping<tspan dx="-6" dy="4.5">0 of 0.07s</tspan></text></g>
<g id="nO5"><text class="n" x="726" y="214">db.(*Conn).Ping<tspan dx="-6" dy="4.5">0 of 0.07s</tspan></text></g>
<g id="nO6"><text class="n" x="726" y="254">db.(*Conn).exec<tspan dx="-6" dy="4.5">0 of 0.07s</tspan></text></g>
<g id="nO7"><text class="n" x="726" y="293">db.(*Conn).send<tspan dx="-6" dy="4.5">0 of 0.07s</tspan></text></g>
<g id="nO8"><text class="n" x="726" y="332">net.(*conn).Write<tspan dx="-6" dy="4.5">0 of 0.06s</tspan></text></g>
<g id="nO9"><text class="n" x="692" y="372">poll.(*FD).Write.fdMu<tspan dx="-6" dy="4.5">0 of 0.06s</tspan></text></g>
<g id="nO10"><text class="n" x="688" y="412">syscall.Write<tspan dx="-6" dy="4.5">0 of 0.06s</tspan></text></g>
<g id="nO11"><text class="n" x="683" y="454">syscall.write<tspan dx="-6" dy="4.5">0 of 0.06s</tspan></text></g>
<g id="nO12"><text class="n" x="679" y="497">syscall.Syscall.x<tspan dx="-6" dy="4.5">0 of 0.06s</tspan></text></g>
<g id="nP3"><text class="n" x="778" y="135">app.(*Watcher).Run<tspan dx="-6" dy="4.5">0 of 0.04s</tspan></text></g>
<g id="nP4"><text class="n" x="778" y="175">fsnotify.(*Watcher).readEvents<tspan dx="-6" dy="4.5">0 of 0.04s</tspan></text></g>
<g id="nP5"><text class="n" x="778" y="214">unix.Read<tspan dx="-6" dy="4.5">0 of 0.04s</tspan></text></g>
<g id="nP6"><text class="n" x="778" y="254">unix.read<tspan dx="-6" dy="4.5">0 of 0.04s</tspan></text></g>
<g id="nP7"><text class="n" x="777" y="293">unix.Syscall<tspan dx="-6" dy="4.5">0 of 0.04s</tspan></text></g>
<g id="nP8"><text class="n" x="772" y="332">syscall.RawSyscall<tspan dx="-6" dy="4.5">0 of 0.04s</tspan></text></g>
<g id="nP9"><text class="n" x="752" y="372">runtime.entersyscall.x<tspan dx="-6" dy="4.5">0 of 0.04s</tspan></text></g>
<g id="nP10"><text class="n" x="747" y="412">runtime.reentersyscall<tspan dx="-6" dy="4.5">0 of 0.04s</tspan></text></g>
<g id="nP11"><text class="n" x="742" y="454">runtime.systemstack.x<tspan dx="-6" dy="4.5">0 of 0.03s</tspan></text></g>
<g id="nP12"><text class="n" x="731" y="497">runtime.exitsyscall<tspan dx="-6" dy="4.5">0 of 0.03s</tspan></text></g>
<g id="nP13"><text class="n" x="725" y="540">runtime.exitsyscallfast<tspan dx="-6" dy="4.5">0 of 0.08s</tspan></text></g>
<g id="nL14f"><text class="n" x="783" y="584">runtime.wirep<tspan dx="-6" dy="4.5">0 of 0.14s</tspan></text></g>
<g id="nQ0"><text class="n" x="823" y="9">0</text><text class="n" x="823" y="16">main<tspan dx="-6" dy="4.5">0 of 0.09s</tspan></text></g>
<g id="nQ1"><text class="n" x="823" y="56">main.init<tspan dx="-6" dy="4.5">0 of 0.09s</tspan></text></g>
<g id="nQ2"><text class="n" x="823" y="96">main.setup<tspan dx="-6" dy="4.5">0 of 0.09s</tspan></text></g>
<g id="nQ3"><text class="n" x="823" y="135">app.(*Daemon).Start<tspan dx="-6" dy="4.5">0 of 0.09s</tspan></text></g>
<g id="nQ4"><text class="n" x="823" y="175">app.(*Daemon).loop<tspan dx="-6" dy="4.5">0 of 0.08s</tspan></text></g>
<g id="nQ5"><text class="n" x="823" y="214">app.(*Daemon).tick<tspan dx="-6" dy="4.5">0 of 0.08s</tspan></text></g>
<g id="nQ6"><text class="n" x="823" y="254">app.(*Daemon).flush<tspan dx="-6" dy="4.5">0 of 0.08s</tspan></text></g>
<g id="nQ7"><text class="n" x="812" y="293">app.(*Writer).Flush<tspan dx="-6" dy="4.5">0 of 0.08s</tspan></text></g>
<g id="nQ8"><text class="n" x="808" y="332">bufio.(*Writer).Flush<tspan dx="-6" dy="4.5">0 of 0.07s</tspan></text></g>
<g id="nQ9"><text class="n" x="802" y="372">os.(*File).Write<tspan dx="-6" dy="4.5">0 of 0.07s</tspan></text></g>
<g id="nQ10"><text class="n" x="798" y="412">os.(*File).write<tspan dx="-6" dy="4.5">0 of 0.07s</tspan></text></g>
<g id="nQ11"><text class="n" x="793" y="454">poll.(*FD).Write<tspan dx="-6" dy="4.5">0 of 0.07s</tspan></text></g>
<g id="nQ12"><text class="n" x="789" y="497">poll.ignoringEINTRIO<tspan dx="-6" dy="4.5">0 of 0.06s</tspan></text></g>
<g id="nQ13"><text class="n" x="785" y="540">syscall.Write.x<tspan dx="-6" dy="4.5">0 of 0.06s</tspan></text></g>
<g id="nR5"><text class="n" x="866" y="214">app.(*Ticker).Run<tspan dx="-6" dy="4.5">0 of 0.03s</tspan></text></g>
<g id="nR6"><text class="n" x="866" y="254">time.Sleep<tspan dx="-6" dy="4.5">0 of 0.03s</tspan></text></g>
<g id="nR7"><text class="n" x="858" y="293">runtime.timeSleep<tspan dx="-6" dy="4.5">0 of 0.03s</tspan></text></g>
<g id="nR8"><text class="n" x="853" y="332">runtime.resetForSleep<tspan dx="-6" dy="4.5">0 of 0.03s</tspan></text></g>
<g id="nR9"><text class="n" x="847" y="372">runtime.resettimer<tspan dx="-6" dy="4.5">0 of 0.03s</tspan></text></g>
<g id="nR10"><text class="n" x="847" y="412">runtime.modtimer<tspan dx="-6" dy="4.5">0 of 0.03s</tspan></text></g>
<g id="nR11"><text class="n" x="847" y="454">runtime.wakeNetPoller<tspan dx="-6" dy="4.5">0 of 0.03s</tspan></text></g>
<g id="nR12"><text class="n" x="847" y="497">runtime.netpollBreak<tspan dx="-6" dy="4.5">0 of 0.02s</tspan></text></g>
<g id="nR13"><text class="n" x="843" y="540">runtime.write1<tspan dx="-6" dy="4.5">0 of 0.05s</tspan></text></g>
<g id="nL14g"><text class="n" x="843" y="584">runtime.write<tspan dx="-6" dy="4.5">0 of 0.05s</tspan></text></g>
<g id="nS2"><text class="n" x="907" y="96">app.(*Sender).Run<tspan dx="-6" dy="4.5">0 of 0.04s</tspan></text></g>
<g id="nS3"><text class="n" x="907" y="135">net/http.(*Client).Do<tspan dx="-6" dy="4.5">0 of 0.04s</tspan></text></g>
<g id="nS4"><text class="n" x="907" y="175">http.(*Client).do<tspan dx="-6" dy="4.5">0 of 0.04s</tspan></text></g>
<g id="nS5"><text class="n" x="907" y="214">http.(*Client).send<tspan dx="-6" dy="4.5">0 of 0.04s</tspan></text></g>
<g id="nS6"><text class="n" x="907" y="254">http.send<tspan dx="-6" dy="4.5">0 of 0.04s</tspan></text></g>
<g id="nS7"><text class="n" x="907" y="293">http.(*Transport).RoundTrip<tspan dx="-6" dy="4.5">0 of 0.04s</tspan></text></g>
<g id="nS8"><text class="n" x="907" y="332">http.(*Transport).getConn<tspan dx="-6" dy="4.5">0 of 0.04s</tspan></text></g>
<g id="nS9"><text class="n" x="907" y="372">http.(*Transport).dialConn<tspan dx="-6" dy="4.5">0 of 0.03s</tspan></text></g>
<g id="nS10"><text class="n" x="907" y="412">http.(*Transport).dial<tspan dx="-6" dy="4.5">0 of 0.03s</tspan></text></g>
<g id="nS11"><text class="n" x="907" y="454">net.(*Dialer).DialContext<tspan dx="-6" dy="4.5">0 of 0.03s</tspan></text></g>
<g id="nS12"><text class="n" x="907" y="497">net.(*sysDialer).dialSerial<tspan dx="-6" dy="4.5">0 of 0.03s</tspan></text></g>
<g id="nT4"><text class="n" x="958" y="175">app.(*GC).Run<tspan dx="-6" dy="4.5">0 of 0.03s</tspan></text></g>
<g id="nT5"><text class="n" x="958" y="214">runtime.GC<tspan dx="-6" dy="4.5">0 of 0.03s</tspan></text></g>
<g id="nT6"><text class="n" x="958" y="254">runtime.gcStart<tspan dx="-6" dy="4.5">0 of 0.03s</tspan></text></g>
<g id="nT7"><text class="n" x="958" y="293">runtime.gcBgMarkStart<tspan dx="-6" dy="4.5">0 of 0.03s</tspan></text></g>
<g id="nT8"><text class="n" x="960" y="332">runtime.gcBgMarkWorker<tspan dx="-6" dy="4.5">0 of 0.02s</tspan></text></g>
<g id="nT9"><text class="n" x="966" y="372">runtime.gcDrain<tspan dx="-6" dy="4.5">0 of 0.04s</tspan></text></g>
<g id="nT10"><text class="n" x="966" y="412">runtime.markroot<tspan dx="-6" dy="4.5">0 of 0.04s</tspan></text></g>
<g id="nT11"><text class="n" x="966" y="454">runtime.scanstack<tspan dx="-6" dy="4.5">0 of 0.04s</tspan></text></g>
<g id="nT12"><text class="n" x="962" y="497">runtime.scanframeworker<tspan dx="-6" dy="4.5">0 of 0.04s</tspan></text></g>
<g id="nT13"><text class="n" x="928" y="540">runtime.getStackMap<tspan dx="-6" dy="4.5">0 of 0.04s</tspan></text></g>
<g id="nL14h"><text class="n" x="900" y="584">runtime.pcvalue<tspan dx="-6" dy="4.5">0 of 0.06s</tspan></text></g>
<g id="nU6"><text class="n" x="996" y="254">runtime.bgsweep<tspan dx="-6" dy="4.5">0 of 0.02s</tspan></text></g>
<g id="nU7"><text class="n" x="996" y="293">runtime.sweepone<tspan dx="-6" dy="4.5">0 of 0.02s</tspan></text></g>
<g id="nU8"><text class="n" x="996" y="332">runtime.(*mspan).sweep<tspan dx="-6" dy="4.5">0 of 0.02s</tspan></text></g>
<g id="nV0"><text class="n" x="1041" y="9">0</text><text class="n" x="1041" y="16">github.com/app/worker.Main<tspan dx="-6" dy="4.5">0 of 0.15s</tspan></text></g>
<g id="nV1"><text class="n" x="1041" y="56">worker.(*Pool).Start<tspan dx="-6" dy="4.5">0 of 0.15s</tspan></text></g>
<g id="nV2"><text class="n" x="1041" y="96">worker.(*Pool).spawn.func1<tspan dx="-6" dy="4.5">0 of 0.15s</tspan></text></g>
<g id="nV3"><text class="n" x="1041" y="135">worker.(*W).run<tspan dx="-6" dy="4.5">0 of 0.14s</tspan></text></g>
<g id="nV4"><text class="n" x="1041" y="175">worker.(*W).handle<tspan dx="-6" dy="4.5">0 of 0.14s</tspan></text></g>
<g id="nV5"><text class="n" x="1041" y="214">worker.(*Job).Exec<tspan dx="-6" dy="4.5">0 of 0.14s</tspan></text></g>
<g id="nV6"><text class="n" x="1041" y="254">worker.(*Job).encode<tspan dx="-6" dy="4.5">0 of 0.13s</tspan></text></g>
<g id="nV7"><text class="n" x="1041" y="293">json.Marshal<tspan dx="-6" dy="4.5">0 of 0.13s</tspan></text></g>
<g id="nV8"><text class="n" x="1038" y="332">json.(*encodeState).marshal<tspan dx="-6" dy="4.5">0 of 0.13s</tspan></text></g>
<g id="nV9"><text class="n" x="1025" y="372">json.(*encodeState).reflectValue<tspan dx="-6" dy="4.5">0 of 0.12s</tspan></text></g>
<g id="nV10"><text class="n" x="1025" y="412">json.structEncoder.encode<tspan dx="-6" dy="4.5">0 of 0.12s</tspan></text></g>
<g id="nV11"><text class="n" x="1025" y="454">json.stringEncoder<tspan dx="-6" dy="4.5">0 of 0.12s</tspan></text></g>
<g id="nV12"><text class="n" x="1025" y="497">json.(*encodeState).string<tspan dx="-6" dy="4.5">0 of 0.11s</tspan></text></g>
<g id="nV13"><text class="n" x="995" y="540">utf8.DecodeRune<tspan dx="-6" dy="4.5">0 of 0.11s</tspan></text></g>
<g id="nL14i"><text class="n" x="955" y="584">runtime.memmove<tspan dx="-6" dy="4.5">0 of 0.11s</tspan></text></g>
<g id="nW6"><text class="n" x="1082" y="254">app.(*Log).Run<tspan dx="-6" dy="4.5">0 of 0.05s</tspan></text></g>
<g id="nW7"><text class="n" x="1082" y="293">zap.(*Logger).Info<tspan dx="-6" dy="4.5">0 of 0.05s</tspan></text></g>
<g id="nW8"><text class="n" x="1080" y="332">zap.(*Logger).check<tspan dx="-6" dy="4.5">0 of 0.05s</tspan></text></g>
<g id="nW9"><text class="n" x="1074" y="372">zapcore.(*ioCore).Write<tspan dx="-6" dy="4.5">0 of 0.05s</tspan></text></g>
<g id="nW10"><text class="n" x="1074" y="412">zapcore.jsonEncoder.Encode<tspan dx="-6" dy="4.5">0 of 0.05s</tspan></text></g>
<g id="nW11"><text class="n" x="1074" y="454">buffer.Append<tspan dx="-6" dy="4.5">0 of 0.04s</tspan></text></g>
<g id="nW12"><text class="n" x="1074" y="497">buffer.AppendString<tspan dx="-6" dy="4.5">0 of 0.04s</tspan></text></g>
<g id="nW13"><text class="n" x="1065" y="540">runtime.growslice<tspan dx="-6" dy="4.5">0 of 0.04s</tspan></text></g>
<g id="nL14j"><text class="n" x="1020" y="584">runtime.memclr<tspan dx="-6" dy="4.5">0 of 0.04s</tspan></text></g>
<g id="nX6"><text class="n" x="1138" y="254">app.(*HTTP).Serve<tspan dx="-6" dy="4.5">0 of 0.06s</tspan></text></g>
<g id="nX7"><text class="n" x="1138" y="293">http.(*Server).Serve<tspan dx="-6" dy="4.5">0 of 0.06s</tspan></text></g>
<g id="nX8"><text class="n" x="1138" y="332">http.(*conn).serve<tspan dx="-6" dy="4.5">0 of 0.06s</tspan></text></g>
<g id="nX9"><text class="n" x="1138" y="372">http.serverHandler.ServeHTTP<tspan dx="-6" dy="4.5">0 of 0.06s</tspan></text></g>
<g id="nX10"><text class="n" x="1138" y="412">http.(*ServeMux).ServeHTTP<tspan dx="-6" dy="4.5">0 of 0.06s</tspan></text></g>
<g id="nX11"><text class="n" x="1127" y="454">app.(*API).handle<tspan dx="-6" dy="4.5">0 of 0.05s</tspan></text></g>
<g id="nX12"><text class="n" x="1117" y="497">app.writeJSON<tspan dx="-6" dy="4.5">0 of 0.05s</tspan></text></g>
<g id="nX13"><text class="n" x="1115" y="540">json.NewEncoder<tspan dx="-6" dy="4.5">0 of 0.05s</tspan></text></g>
<g id="nL14k"><text class="n" x="1085" y="584">runtime.makeslice<tspan dx="-6" dy="4.5">0 of 0.05s</tspan></text></g>
<g id="nY3"><text class="n" x="1187" y="135">app.(*Sync).Run<tspan dx="-6" dy="4.5">0 of 0.07s</tspan></text></g>
<g id="nY4"><text class="n" x="1187" y="175">sync.(*Map).Range<tspan dx="-6" dy="4.5">0 of 0.07s</tspan></text></g>
<g id="nY5"><text class="n" x="1187" y="214">app.(*Sync).visit<tspan dx="-6" dy="4.5">0 of 0.07s</tspan></text></g>
<g id="nY6"><text class="n" x="1187" y="254">app.(*Sync).diff<tspan dx="-6" dy="4.5">0 of 0.07s</tspan></text></g>
<g id="nY7"><text class="n" x="1187" y="293">app.(*Sync).apply<tspan dx="-6" dy="4.5">0 of 0.07s</tspan></text></g>
<g id="nY8"><text class="n" x="1187" y="332">app.(*Sync).store<tspan dx="-6" dy="4.5">0 of 0.06s</tspan></text></g>
<g id="nY9"><text class="n" x="1187" y="372">redis.(*Client).Set<tspan dx="-6" dy="4.5">0 of 0.06s</tspan></text></g>
<g id="nY10"><text class="n" x="1187" y="412">redis.(*baseClient).process<tspan dx="-6" dy="4.5">0 of 0.06s</tspan></text></g>
<g id="nY11"><text class="n" x="1187" y="454">redis.(*Conn).WithWriter<tspan dx="-6" dy="4.5">0 of 0.06s</tspan></text></g>
<g id="nY12"><text class="n" x="1187" y="497">redis.(*Writer).WriteArgs<tspan dx="-6" dy="4.5">0 of 0.06s</tspan></text></g>
<g id="nY13"><text class="n" x="1193" y="540">bufio.(*Writer).WriteString<tspan dx="-6" dy="4.5">0 of 0.09s</tspan></text></g>
<g id="nL14l"><text class="n" x="1145" y="584">runtime.memmove.x<tspan dx="-6" dy="4.5">0 of 0.09s</tspan></text></g>
<g id="nZ3"><text class="n" x="1241" y="135">app.(*Trace).Run<tspan dx="-6" dy="4.5">0 of 0.03s</tspan></text></g>
<g id="nZ4"><text class="n" x="1241" y="175">trace.(*Exporter).flush<tspan dx="-6" dy="4.5">0 of 0.03s</tspan></text></g>
<g id="nZ5"><text class="n" x="1241" y="214">trace.(*Batch).export<tspan dx="-6" dy="4.5">0 of 0.03s</tspan></text></g>
<g id="nZ6"><text class="n" x="1241" y="254">otlp.(*Client).Upload<tspan dx="-6" dy="4.5">0 of 0.03s</tspan></text></g>
<g id="nZ7"><text class="n" x="1241" y="293">grpc.(*ClientConn).Invoke<tspan dx="-6" dy="4.5">0 of 0.03s</tspan></text></g>
<g id="nZ8"><text class="n" x="1241" y="332">grpc.invoke<tspan dx="-6" dy="4.5">0 of 0.03s</tspan></text></g>
<g id="nZ9"><text class="n" x="1241" y="372">grpc.(*clientStream).SendMsg<tspan dx="-6" dy="4.5">0 of 0.02s</tspan></text></g>
<g id="nZ10"><text class="n" x="1241" y="412">grpc.encode<tspan dx="-6" dy="4.5">0 of 0.02s</tspan></text></g>
<g id="nZ11"><text class="n" x="1275" y="454">proto.MarshalOptions.marshal<tspan dx="-6" dy="4.5">0 of 0.04s</tspan></text></g>
<g id="nZ12"><text class="n" x="1274" y="497">proto.(*Buffer).grow<tspan dx="-6" dy="4.5">0 of 0.04s</tspan></text></g>
<g id="nAA2"><text class="n" x="1308" y="96">app.(*Stats).Run<tspan dx="-6" dy="4.5">0 of 0.02s</tspan></text></g>
<g id="nAA3"><text class="n" x="1308" y="135">stats.(*Agg).collect<tspan dx="-6" dy="4.5">0 of 0.02s</tspan></text></g>
<g id="nAA4"><text class="n" x="1308" y="175">stats.(*Agg).merge<tspan dx="-6" dy="4.5">0 of 0.02s</tspan></text></g>
<g id="nAA5"><text class="n" x="1308" y="214">stats.(*Hist).Add<tspan dx="-6" dy="4.5">0 of 0.02s</tspan></text></g>
<g id="nAA6"><text class="n" x="1308" y="254">stats.(*Hist).grow<tspan dx="-6" dy="4.5">0 of 0.02s</tspan></text></g>
<g id="nAA7"><text class="n" x="1308" y="293">stats.newBuckets<tspan dx="-6" dy="4.5">0 of 0.02s</tspan></text></g>
<g id="nAA8"><text class="n" x="1308" y="332">stats.encode<tspan dx="-6" dy="4.5">0 of 0.02s</tspan></text></g>
<g id="nAA9"><text class="n" x="1308" y="372">stats.(*Enc).Write<tspan dx="-6" dy="4.5">0 of 0.02s</tspan></text></g>
<g id="nAA10"><text class="n" x="1308" y="412">proto.Marshal.x<tspan dx="-6" dy="4.5">0 of 0.02s</tspan></text></g>
<g id="nAB2"><text class="n" x="1360" y="96">app.(*Bus).Run<tspan dx="-6" dy="4.5">0 of 0.02s</tspan></text></g>
<g id="nAB3"><text class="n" x="1360" y="135">bus.(*Sub).loop<tspan dx="-6" dy="4.5">0 of 0.02s</tspan></text></g>
<g id="nAB4"><text class="n" x="1360" y="175">bus.(*Sub).recv<tspan dx="-6" dy="4.5">0 of 0.02s</tspan></text></g>
<g id="nAB5"><text class="n" x="1360" y="214">bus.(*Msg).Decode<tspan dx="-6" dy="4.5">0 of 0.02s</tspan></text></g>
<g id="nAB6"><text class="n" x="1360" y="254">bus.decodeHeader<tspan dx="-6" dy="4.5">0 of 0.02s</tspan></text></g>
<g id="nAB7"><text class="n" x="1360" y="293">bus.readVarint<tspan dx="-6" dy="4.5">0 of 0.02s</tspan></text></g>
<g id="nAB8"><text class="n" x="1360" y="332">bus.(*Frame).Read<tspan dx="-6" dy="4.5">0 of 0.02s</tspan></text></g>
<g id="nAB9"><text class="n" x="1360" y="372">bus.unmarshal<tspan dx="-6" dy="4.5">0 of 0.02s</tspan></text></g>
<g id="nAB10"><text class="n" x="1360" y="412">proto.Unmarshal<tspan dx="-6" dy="4.5">0 of 0.02s</tspan></text></g>
<g id="nAB11"><text class="n" x="1340" y="454">proto.UnmarshalOptions<tspan dx="-6" dy="4.5">0 of 0.02s</tspan></text></g>
<g id="nCenter">
<text class="n" x="813" y="619">app.(*Runtime).Dispatch<tspan dx="-2" dy="4.5">0 of 2.10s</tspan></text>
<text class="n" x="813" y="629">app.(*Runtime).execute<tspan dx="-2" dy="4.5">0 of 2.10s</tspan></text>
<text class="n" x="813" y="639">app.(*Runtime).invoke<tspan dx="-2" dy="4.5">0 of 2.10s</tspan></text>
<text class="n" x="813" y="649">app.(*Runtime).callFunc<tspan dx="-2" dy="4.5">0 of 2.10s</tspan></text>
<text class="n" x="813" y="658">app.(*Runtime).wrapCall<tspan dx="-2" dy="4.5">0 of 2.10s</tspan></text>
</g>
<g id="nN1"><text class="n" x="813" y="694">main.(*Engine).processEventsWithTimeout<tspan dx="4" dy="5">2.10s</tspan></text></g>
<g id="nN2"><text class="n" x="815" y="734">app.(*Engine).step<tspan dx="-10" dy="4.5">0 of 2.10s</tspan></text></g>
<g id="nN3"><text class="n" x="815" y="773">app.(*Engine).run<tspan dx="-10" dy="4.5">0 of 2.09s</tspan></text></g>
<g id="nN4"><text class="n" x="815" y="813">app.(*Engine).loop<tspan dx="-10" dy="4.5">0 of 2.09s</tspan></text></g>
<g id="nN5"><text class="n" x="815" y="853">app.(*Engine).wait<tspan dx="-10" dy="4.5">0 of 2.08s</tspan></text></g>
<g id="nN6"><text class="n" x="815" y="893">app.(*Engine).poll<tspan dx="-10" dy="4.5">0 of 2.08s</tspan></text></g>
</svg>
